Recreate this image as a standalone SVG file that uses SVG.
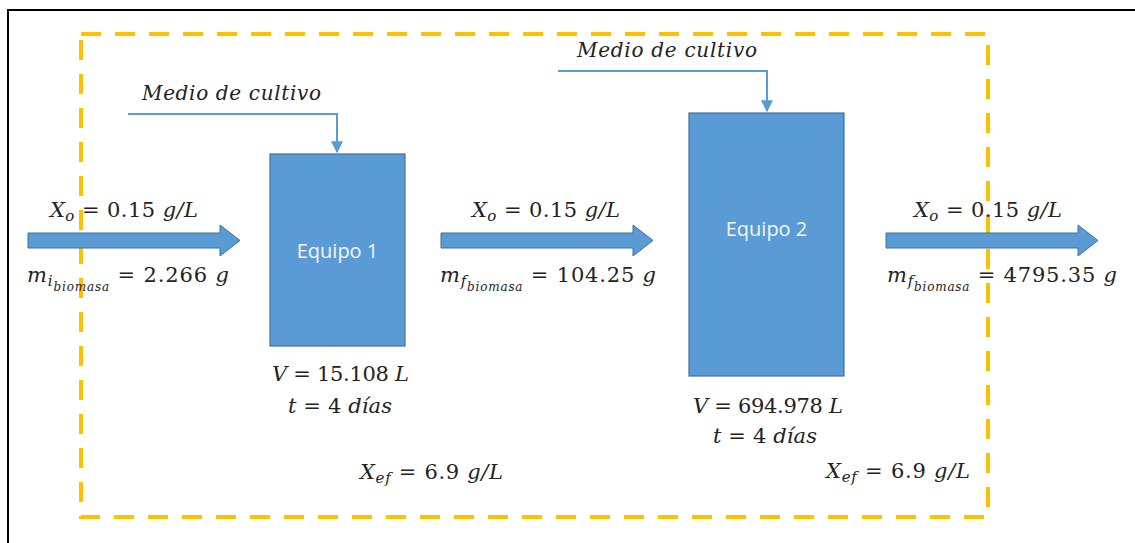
<svg xmlns="http://www.w3.org/2000/svg" width="1135" height="543" viewBox="0 0 1135 543">
  <defs>
    <style>
      .frame { fill: none; stroke: #000; stroke-width: 2; }
      .bound { fill: none; stroke: #FFC000; stroke-width: 4; stroke-dasharray: 20 14; }
      .equip { fill: #5B9BD5; stroke: #41719C; stroke-width: 1.2; }
      .elabel { font-family: "Open Sans", "Liberation Sans", sans-serif; font-size: 20px; fill: #F2F6FB; text-anchor: middle; }
      .flow { fill: #5B9BD5; stroke: #41719C; stroke-width: 1; }
      .feed { fill: none; stroke: #5B9BD5; stroke-width: 2; }
      .math { font-family: "DejaVu Serif", "Liberation Serif", serif; font-size: 21px; fill: #222; }
      .label { font-family: "DejaVu Serif", "Liberation Serif", serif; font-size: 20px; font-style: italic; fill: #222; }
      .it { font-style: italic; }
      .sub { font-size: 15px; font-style: italic; }
      .sub2 { font-size: 12px; font-style: italic; }
    </style>
    <marker id="tip" viewBox="0 0 10 10" refX="9" refY="5" markerWidth="6" markerHeight="6" orient="auto" markerUnits="strokeWidth">
      <path d="M0,0 L10,5 L0,10 z" fill="#5B9BD5"/>
    </marker>
  </defs>

  <rect width="1135" height="543" fill="#fff"/>
  <!-- page frame (top and left edges) -->
  <path class="frame" d="M8,543 V10 H1135"/>

  <!-- system boundary -->
  <rect class="bound" x="81" y="34" width="907" height="483"/>

  <g id="connectors">
    <path class="feed" d="M128,114 H337 V152" marker-end="url(#tip)"/>
    <path class="feed" d="M558,71 H767 V111" marker-end="url(#tip)"/>
    <path class="flow" d="M28,233 H220 V225 L240,240.5 L220,256 V248 H28 z"/>
    <path class="flow" d="M441,233 H633 V225 L653,240.5 L633,256 V248 H441 z"/>
    <path class="flow" d="M886,233 H1078 V225 L1098,240.5 L1078,256 V248 H886 z"/>
  </g>

  <g id="equipo1">
    <rect class="equip" x="270" y="154" width="135" height="192"/>
    <text class="elabel" x="337.5" y="258">Equipo 1</text>
  </g>

  <g id="equipo2">
    <rect class="equip" x="689" y="113" width="155" height="263"/>
    <text class="elabel" x="766.5" y="236">Equipo 2</text>
  </g>

  <g id="feed-labels">
    <text class="label" x="142" y="100" textLength="179">Medio de cultivo</text>
    <text class="label" x="577" y="57" textLength="180">Medio de cultivo</text>
  </g>

  <g id="stream-in">
    <text class="math" x="50" y="217" textLength="148"><tspan class="it">X</tspan><tspan class="sub" dy="4">o</tspan><tspan dy="-4"> = 0.15 </tspan><tspan class="it">g/L</tspan></text>
    <text class="math" x="27" y="282" textLength="202"><tspan class="it">m</tspan><tspan class="sub" dy="4">i</tspan><tspan class="sub2" dy="5">biomasa</tspan><tspan dy="-9"> = 2.266 </tspan><tspan class="it">g</tspan></text>
  </g>

  <g id="stream-mid">
    <text class="math" x="472" y="217" textLength="148"><tspan class="it">X</tspan><tspan class="sub" dy="4">o</tspan><tspan dy="-4"> = 0.15 </tspan><tspan class="it">g/L</tspan></text>
    <text class="math" x="440" y="282" textLength="216"><tspan class="it">m</tspan><tspan class="sub" dy="4">f</tspan><tspan class="sub2" dy="5">biomasa</tspan><tspan dy="-9"> = 104.25 </tspan><tspan class="it">g</tspan></text>
  </g>

  <g id="stream-out">
    <text class="math" x="914" y="217" textLength="148"><tspan class="it">X</tspan><tspan class="sub" dy="4">o</tspan><tspan dy="-4"> = 0.15 </tspan><tspan class="it">g/L</tspan></text>
    <text class="math" x="887" y="282" textLength="230"><tspan class="it">m</tspan><tspan class="sub" dy="4">f</tspan><tspan class="sub2" dy="5">biomasa</tspan><tspan dy="-9"> = 4795.35 </tspan><tspan class="it">g</tspan></text>
  </g>

  <g id="equipo1-data">
    <text class="math" x="272" y="381" textLength="137"><tspan class="it">V</tspan> = 15.108 <tspan class="it">L</tspan></text>
    <text class="math" x="288" y="413" textLength="104"><tspan class="it">t</tspan> = 4 <tspan class="it">días</tspan></text>
    <text class="math" x="360" y="479" textLength="143"><tspan class="it">X</tspan><tspan class="sub" dy="4">ef</tspan><tspan dy="-4"> = 6.9 </tspan><tspan class="it">g/L</tspan></text>
  </g>

  <g id="equipo2-data">
    <text class="math" x="693" y="413" textLength="150"><tspan class="it">V</tspan> = 694.978 <tspan class="it">L</tspan></text>
    <text class="math" x="713" y="443" textLength="104"><tspan class="it">t</tspan> = 4 <tspan class="it">días</tspan></text>
    <text class="math" x="826" y="478" textLength="144"><tspan class="it">X</tspan><tspan class="sub" dy="4">ef</tspan><tspan dy="-4"> = 6.9 </tspan><tspan class="it">g/L</tspan></text>
  </g>
</svg>
